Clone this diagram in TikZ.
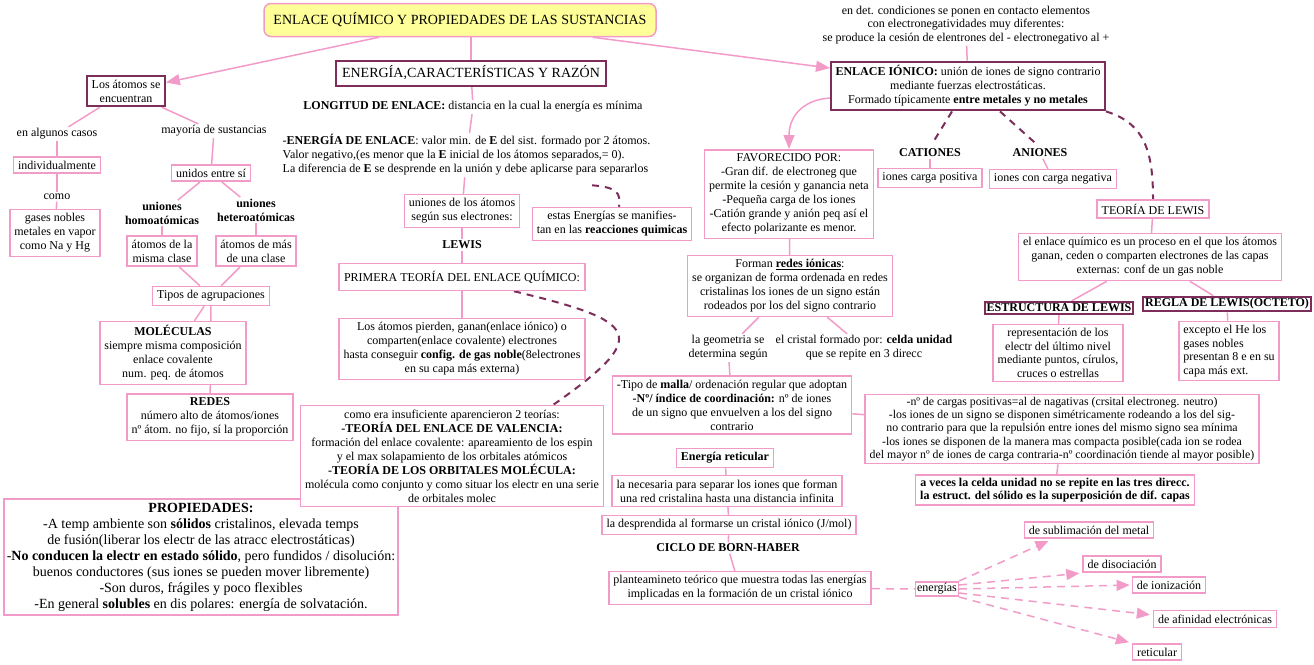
\documentclass[tikz,border=0pt]{standalone}
\usepackage{fontspec}
\setmainfont{Liberation Serif}
\usetikzlibrary{arrows.meta,positioning,calc,backgrounds}
\definecolor{mappink}{RGB}{243,155,200}
\definecolor{mapplum}{RGB}{125,45,90}
\definecolor{mapyellow}{RGB}{255,255,153}
\tikzset{
  box/.style={
    draw=mappink,
    line width=1.5pt,
    fill=white,
    align=center,
    inner xsep=4.5pt,
    inner ysep=4pt,
    font=\fontsize{12}{14}\selectfont
  },
  smallbox/.style={box, inner ysep=2.5pt, font=\fontsize{11.8}{13.4}\selectfont},
  darkbox/.style={box, draw=mapplum, line width=2pt},
  titlebox/.style={
    box,
    fill=mapyellow,
    rounded corners=7pt,
    font=\fontsize{14}{16}\selectfont,
    minimum width=392pt,
    minimum height=33pt
  },
  txt/.style={align=center, inner sep=1.5pt, font=\fontsize{12}{14}\selectfont},
  boldtxt/.style={txt, font=\fontsize{12}{14}\selectfont\bfseries},
  link/.style={draw=mappink, line width=1.5pt},
  arr/.style={link, -{Triangle[length=14pt,width=11pt]}},
  dashlink/.style={draw=mapplum, line width=2pt, dash pattern=on 7pt off 6pt},
  dasharr/.style={link, dash pattern=on 8pt off 6pt, -{Triangle[length=13pt,width=11pt]}}
}

\begin{document}
\begin{tikzpicture}[x=1pt,y=-1pt]
  \useasboundingbox (0,0) rectangle (1314,664);

  % titulo
  \node[titlebox] (titulo) at (460,20) {ENLACE QUÍMICO Y PROPIEDADES DE LAS SUSTANCIAS};

  % los atomos
  \node[darkbox] (atomos) at (126,91) {Los átomos se\\encuentran};
  \node[txt] (algunos) at (57,134) {en algunos casos};
  \node[txt] (mayoria) at (214,131) {mayoría de sustancias};
  \node[box] (individual) at (57,165) {individualmente};
  \node[txt] (como) at (57,197) {como};
  \node[box] (gases) at (55,233) {gases nobles\\metales en vapor\\como Na y Hg};
  \node[box] (unidos) at (211,173) {unidos entre sí};
  \node[boldtxt] (homo) at (162,213) {uniones\\homoatómicas};
  \node[boldtxt] (hetero) at (256,210) {uniones\\heteroatómicas};
  \node[box] (misma) at (162,251) {átomos de la\\misma clase};
  \node[box] (masde) at (256,251) {átomos de más\\de una clase};
  \node[box] (tipos) at (211,296) {Tipos de agrupaciones};
  \node[box] (molec) at (173,353) {\textbf{MOLÉCULAS}\\siempre misma composición\\enlace covalente\\num. peq. de átomos};
  \node[box] (redes) at (210,417) {\textbf{REDES}\\número alto de átomos/iones\\nº átom. no fijo, sí la proporción};

  % energia
  \node[darkbox, font=\fontsize{14}{16}\selectfont, minimum width=270pt, minimum height=25pt] (energia) at (471,73) {ENERGÍA,CARACTERÍSTICAS Y RAZÓN};
  \node[txt] (longitud) at (473,107) {\textbf{LONGITUD DE ENLACE:} distancia en la cual la energía es mínima};
  \node[txt, align=left, anchor=north west] (energenl) at (281,133) {-\textbf{ENERGÍA DE ENLACE}: valor min. de \textbf{E} del sist. formado por 2 átomos.\\Valor negativo,(es menor que la \textbf{E} inicial de los átomos separados,= 0).\\La diferencia de \textbf{E} se desprende en la unión y debe aplicarse para separarlos};
  \node[box] (uniones) at (462,211) {uniones de los átomos\\según sus electrones:};
  \node[box] (estas) at (612,224) {estas Energías se manifies-\\tan en las \textbf{reacciones quimicas}};
  \node[boldtxt] (lewis) at (462,245) {LEWIS};
  \node[box, minimum width=246pt, minimum height=27pt] (primera) at (462,277) {PRIMERA TEORÍA DEL ENLACE QUÍMICO:};
  \node[box] (pierden) at (462,349) {Los átomos pierden, ganan(enlace iónico) o\\comparten(enlace covalente) electrones\\hasta conseguir \textbf{config. de gas noble}(8electrones\\en su capa más externa)};
  \node[box, inner xsep=3pt, font=\fontsize{14}{16}\selectfont] (prop) at (201,557) {\textbf{PROPIEDADES:}\\-A temp ambiente son \textbf{sólidos} cristalinos, elevada temps\\de fusión(liberar los electr de las atracc electrostáticas)\\-\textbf{No conducen la electr en estado sólido}, pero fundidos / disolución:\\buenos conductores (sus iones se pueden mover libremente)\\-Son duros, frágiles y poco flexibles\\-En general \textbf{solubles} en dis polares: energía de solvatación.};
  \node[box] (insuf) at (452,456) {como era insuficiente aparencieron 2 teorías:\\\textbf{-TEORÍA DEL ENLACE DE VALENCIA:}\\formación del enlace covalente: apareamiento de los espin\\y el max solapamiento de los orbitales atómicos\\\textbf{-TEORÍA DE LOS ORBITALES MOLÉCULA:}\\molécula como conjunto y como situar los electr en una serie\\de orbitales molec};

  % enlace ionico
  \node[txt, font=\fontsize{12}{13.5}\selectfont] (endet) at (966,25) {en det. condiciones se ponen en contacto elementos\\con electronegatividades muy diferentes:\\se produce la cesión de elentrones del - electronegativo al +};
  \node[darkbox] (ionico) at (968,86) {\textbf{ENLACE IÓNICO:} unión de iones de signo contrario\\mediante fuerzas electrostáticas.\\Formado típicamente \textbf{entre metales y no metales}};
  \node[box] (favor) at (789,194) {FAVORECIDO POR:\\-Gran dif. de electroneg que\\permite la cesión y ganancia neta\\-Pequeña carga de los iones\\-Catión grande y anión peq así el\\efecto polarizante es menor.};
  \node[boldtxt] (cationes) at (930,153) {CATIONES};
  \node[box] (ionpos) at (930,178) {iones carga positiva};
  \node[boldtxt] (aniones) at (1040,153) {ANIONES};
  \node[box] (ionneg) at (1053,179) {iones con carga negativa};
  \node[box] (teoria) at (1153,209) {TEORÍA DE LEWIS};
  \node[box] (proceso) at (1150,257) {el enlace químico es un proceso en el que los átomos\\ganan, ceden o comparten electrones de las capas\\externas: conf de un gas noble};
  \node[darkbox, inner xsep=2pt, inner ysep=2pt, font=\fontsize{12}{14}\selectfont\bfseries] (estruct) at (1059,308) {ESTRUCTURA DE LEWIS};
  \node[darkbox, inner xsep=2pt, inner ysep=2pt, font=\fontsize{12}{14}\selectfont\bfseries] (regla) at (1227,304) {REGLA DE LEWIS(OCTETO)};
  \node[box, font=\fontsize{12}{13.5}\selectfont] (repres) at (1058,353) {representación de los\\electr del último nivel\\mediante puntos, círulos,\\cruces o estrellas};
  \node[box, align=left, font=\fontsize{12}{13.5}\selectfont] (excepto) at (1229,351) {excepto el He los\\gases nobles\\presentan 8 e en su\\ capa más ext.};

  % redes ionicas
  \node[box] (forman) at (790,286) {Forman \underline{\textbf{redes iónicas}}:\\se organizan de forma ordenada en redes\\cristalinas los iones de un signo están\\rodeados por los del signo contrario};
  \node[txt] (geom) at (728,348) {la geometria se\\determina según};
  \node[txt] (cristal) at (864,348) {el cristal formado por: \textbf{celda unidad}\\que se repite en 3 direcc};
  \node[box] (malla) at (732,405) {-Tipo de \textbf{malla}/ ordenación regular que adoptan\\\textbf{-Nº/ índice de coordinación:} nº de iones\\de un signo que envuelven a los del signo\\contrario};
  \node[smallbox] (cargas) at (1062,429) {-nº de cargas positivas=al de nagativas (crsital electroneg. neutro)\\-los iones de un signo se disponen simétricamente rodeando a los del sig-\\no contrario para que la repulsión entre iones del mismo signo sea mínima\\-los iones se disponen de la manera mas compacta posible(cada ion se rodea\\del mayor nº de iones de carga contraria-nº coordinación tiende al mayor posible)};
  \node[box, inner ysep=3pt, font=\fontsize{12}{13}\selectfont\bfseries] (aveces) at (1055,490) {a veces la celda unidad no se repite en las tres direcc.\\la estruct. del sólido es la superposición de dif. capas};

  % energia reticular
  \node[box, font=\fontsize{12}{14}\selectfont\bfseries] (reticular) at (725,458) {Energía reticular};
  \node[box] (necesaria) at (727,491) {la necesaria para separar los iones que forman\\una red cristalina hasta una distancia infinita};
  \node[box] (desprend) at (729,525) {la desprendida al formarse un cristal iónico (J/mol)};
  \node[boldtxt] (born) at (728,548) {CICLO DE BORN-HABER};
  \node[box] (plantea) at (740,588) {planteamineto teórico que muestra todas las energías\\implicadas en la formación de un cristal iónico};
  \node[box, inner xsep=1.5pt, inner ysep=1.5pt] (energias) at (937,589) {energías};
  \node[box] (sublim) at (1089,530) {de sublimación del metal};
  \node[box] (disoc) at (1122,564) {de disociación};
  \node[box] (ioniz) at (1169,585) {de ionización};
  \node[box] (afin) at (1215,619) {de afinidad electrónicas};
  \node[box] (retic) at (1157,652) {reticular};

  \begin{scope}[on background layer]
    \draw[arr] (titulo) -- (atomos);
    \draw[link] (energia.north) -- (energia.north |- titulo.south);
    \draw[arr] (titulo) -- (ionico);
    % izquierda
    \draw[link] (atomos) -- (algunos);
    \draw[link] (atomos) -- (mayoria);
    \draw[link] (algunos) -- (individual);
    \draw[link] (individual) -- (como);
    \draw[link] (como) -- (gases);
    \draw[link] (mayoria) -- (unidos);
    \draw[link] (unidos) -- (homo);
    \draw[link] (unidos) -- (hetero);
    \draw[link] (homo) -- (misma);
    \draw[link] (hetero) -- (masde);
    \draw[link] (misma) -- (tipos);
    \draw[link] (masde) -- (tipos);
    \draw[link] (tipos) -- (molec);
    \draw[link] (tipos) -- (redes);
    % centro
    \draw[link] (energia) -- (longitud);
    \draw[link] (longitud) -- (energenl);
    \draw[link] (energenl) -- (uniones);
    \draw[dashlink] ([shift={(-60,8)}]energenl.south east) .. controls +(25,2) and +(2,-14) .. ([xshift=7pt]estas.north);
    \draw[link] (uniones) -- (lewis);
    \draw[link] (lewis) -- (primera);
    \draw[link] (primera) -- (pierden);
    \draw[dashlink] ([xshift=52pt]primera.south) .. controls +(125,30) and +(100,-70) .. ([xshift=101pt]insuf.north);
    % derecha
    \draw[link] (endet) -- (ionico);
    \draw[arr] ([yshift=-12pt]ionico.west) .. controls +(-30,2) and +(0,-30) .. (favor.north);
    \draw[dashlink, shorten >=7pt] ([xshift=-16pt]ionico.south) -- (cationes.north);
    \draw[dashlink, shorten >=7pt] ([xshift=32pt]ionico.south) -- (aniones.north);
    \draw[dashlink] (ionico.south east) .. controls +(40,12) and +(0,-45) .. (teoria.north);
    \draw[link] (cationes) -- (ionpos);
    \draw[link] (aniones) -- (ionneg);
    \draw[link] (teoria) -- (proceso);
    \draw[link] (proceso) -- (estruct);
    \draw[link] (proceso) -- (regla);
    \draw[link] (estruct) -- (repres);
    \draw[link] (regla) -- (excepto);
    \draw[link] (favor) -- (forman);
    \draw[link] (forman) -- (geom);
    \draw[link] (forman) -- (cristal);
    \draw[link] (geom) -- (malla);
    \draw[link] (malla) -- (cargas);
    \draw[link] (cargas) -- (aveces);
    % energia reticular
    \draw[link] (reticular) -- (necesaria);
    \draw[link] (necesaria) -- (desprend);
    \draw[link] (desprend) -- (born);
    \draw[link] (born) -- (plantea);
    \draw[link, dash pattern=on 8pt off 6pt] (plantea) -- (energias);
    \draw[dasharr, shorten >=5pt] ([yshift=8pt]energias.east) -- ([xshift=-36pt]sublim.south);
    \draw[dasharr, shorten >=3pt] ([yshift=4pt]energias.east) -- (disoc.south west);
    \draw[dasharr, shorten >=2pt] (energias.east) -- (ioniz.west);
    \draw[dasharr, shorten >=3pt] ([yshift=-4pt]energias.east) -- ([yshift=4pt]afin.west);
    \draw[dasharr, shorten >=3pt] ([yshift=-8pt]energias.east) -- (retic.north west);
  \end{scope}
\end{tikzpicture}
\end{document}
